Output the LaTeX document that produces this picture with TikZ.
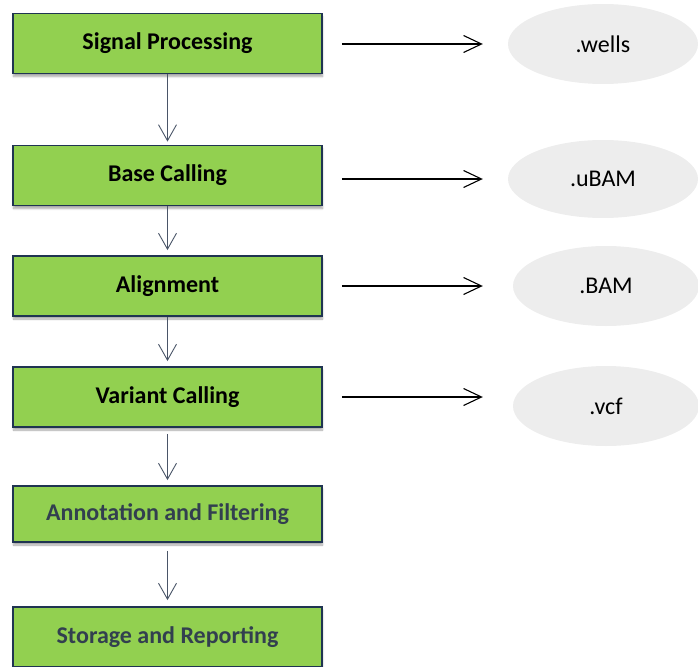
\documentclass[tikz,border=0pt]{standalone}
\usepackage{fontspec}
\setmainfont{Carlito}
\usetikzlibrary{arrows.meta,shapes.geometric,shadows.blur}
\definecolor{stepgreen}{HTML}{92D050}
\definecolor{stepedge}{HTML}{1F3451}
\definecolor{mutedtext}{HTML}{323F4F}
\definecolor{filegray}{HTML}{EDEDED}
\definecolor{flowline}{HTML}{4A5568}
\tikzset{
  stepbox/.style={draw=stepedge, line width=1.8pt, fill=stepgreen,
    minimum width=309pt, minimum height=60pt, inner sep=0pt,
    font=\fontsize{24}{28}\selectfont\bfseries,
    blur shadow={shadow xshift=0.5pt, shadow yshift=-3pt, shadow blur steps=6, shadow opacity=35}},
  fileoval/.style={ellipse, fill=filegray, draw=none, minimum width=190pt,
    minimum height=80pt, inner sep=0pt, font=\fontsize{24}{28}\selectfont},
  flow/.style={draw=flowline, line width=0.9pt, -{Straight Barb[length=16pt,width=18pt,line width=0.9pt]}},
  produce/.style={draw=black, line width=1.1pt, -{Straight Barb[length=18pt,width=17pt,line width=1.1pt]}}
}
\begin{document}
\begin{tikzpicture}[x=1pt,y=-1pt]
\useasboundingbox (0,0) rectangle (698,666);
% processing steps
\node[stepbox] (sig)  at (167.5,43.5)  {Signal Processing};
\node[stepbox] (base) at (167.5,175.5) {Base Calling};
\node[stepbox] (aln)  at (167.5,286)   {Alignment};
\node[stepbox] (var)  at (167.5,397)   {Variant Calling};
\node[stepbox, minimum height=56pt, text=mutedtext] (ann) at (167.5,514) {Annotation and Filtering};
\node[stepbox, text=mutedtext] (sto) at (167.5,637) {Storage and Reporting};
% output files
\node[fileoval] (wells) at (603,44)  {.wells};
\node[fileoval, minimum height=78pt] (ubam) at (603,179) {.uBAM};
\node[fileoval, minimum height=80pt, minimum width=186pt] (bam) at (606,286) {.BAM};
\node[fileoval, minimum height=80pt, minimum width=186pt] (vcf) at (606,406) {.vcf};
% pipeline flow
\draw[flow] (sig.south)  -- ([yshift=3pt]base.north);
\draw[flow] (base.south) -- ([yshift=5pt]aln.north);
\draw[flow] (aln.south)  -- ([yshift=5pt]var.north);
\draw[flow] ([yshift=-6pt]var.south) -- ([yshift=5pt]ann.north);
\draw[flow] ([yshift=-8pt]ann.south) -- ([yshift=6pt]sto.north);
% produced files
\draw[produce] ([xshift=19pt]sig.east |- wells.west)  -- ([xshift=-25pt]wells.west);
\draw[produce] ([xshift=19pt]base.east |- ubam.west)  -- ([xshift=-25pt]ubam.west);
\draw[produce] ([xshift=19pt]aln.east |- bam.west)    -- ([xshift=-30pt]bam.west);
\draw[produce] ([xshift=19pt]var.east |- 0,397)       -- ([xshift=-30pt]vcf.west |- 0,397);
\end{tikzpicture}
\end{document}
